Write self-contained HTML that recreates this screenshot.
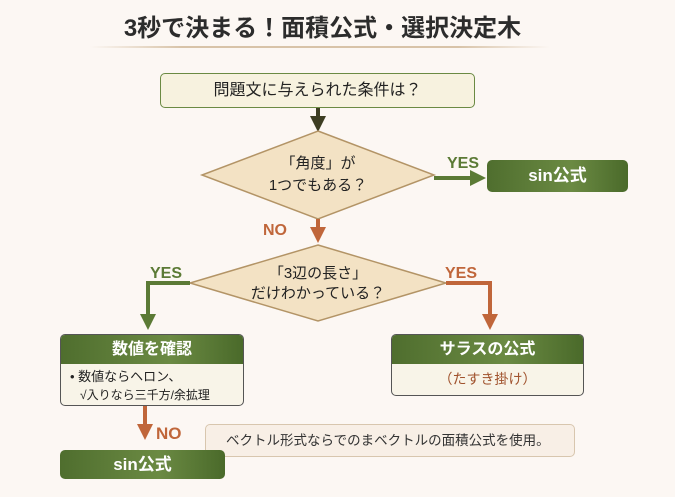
<!DOCTYPE html>
<html><head><meta charset="utf-8"><style>
body{margin:0;width:675px;height:497px;background:#fcf7f3;font-family:"Liberation Sans","Noto Sans CJK JP",sans-serif;position:relative;overflow:hidden}
.a{position:absolute}
.g{background:linear-gradient(90deg,#4f6e2e,#6b8a43 60%,#4a6a2a);color:#fff;border-radius:5px;text-align:center;font-weight:bold}
</style></head><body>
<div class="a" style="left:0;width:675px;top:8px;text-align:center;font-size:24px;font-weight:bold;color:#2c2c2c"><span style="margin-left:-30px">3秒で決まる！面積公式・選択決定木</span></div>
<div class="a" style="left:90px;top:46px;width:460px;height:2px;background:linear-gradient(90deg,transparent,#d8c3a8 20%,#d8c3a8 80%,transparent)"></div>

<div class="a" style="left:160px;top:73px;width:313px;height:33px;background:#f7f2df;border:1.5px solid #6b8a43;border-radius:5px;text-align:center;line-height:33px;font-size:16px;color:#222">問題文に与えられた条件は？</div>

<svg class="a" style="left:0;top:0" width="675" height="497">
<defs>
<marker id="dg" markerWidth="4" markerHeight="4" refX="2" refY="2" orient="auto"><path d="M0,0L4,2L0,4z" fill="#3d3d22"/></marker>
<marker id="gr" markerWidth="4" markerHeight="4" refX="2" refY="2" orient="auto"><path d="M0,0L4,2L0,4z" fill="#5b7a35"/></marker>
<marker id="or" markerWidth="4" markerHeight="4" refX="2" refY="2" orient="auto"><path d="M0,0L4,2L0,4z" fill="#c0663a"/></marker>
</defs>
<line x1="318" y1="108" x2="318" y2="124" stroke="#3d3d22" stroke-width="4" marker-end="url(#dg)"/>
<polygon points="318,131 434,175 318,219 202,175" fill="#f3e2c4" stroke="#b39466" stroke-width="1.5"/>
<line x1="434" y1="178" x2="478" y2="178" stroke="#5b7a35" stroke-width="4" marker-end="url(#gr)"/>
<line x1="318" y1="219" x2="318" y2="235" stroke="#c0663a" stroke-width="4" marker-end="url(#or)"/>
<polygon points="318,245 446,283 318,321 190,283" fill="#f3e2c4" stroke="#b39466" stroke-width="1.5"/>
<polyline points="190,283 148,283 148,322" fill="none" stroke="#5b7a35" stroke-width="4" marker-end="url(#gr)"/>
<polyline points="446,283 490,283 490,322" fill="none" stroke="#c0663a" stroke-width="4" marker-end="url(#or)"/>
<line x1="145" y1="406" x2="145" y2="432" stroke="#c0663a" stroke-width="4" marker-end="url(#or)"/>
<text x="318" y="168" text-anchor="middle" font-size="15" fill="#222">「角度」が</text>
<text x="318" y="190" text-anchor="middle" font-size="15" fill="#222">1つでもある？</text>
<text x="318" y="278" text-anchor="middle" font-size="15" fill="#222">「3辺の長さ」</text>
<text x="318" y="298" text-anchor="middle" font-size="15" fill="#222">だけわかっている？</text>
<text x="447" y="168" font-size="16" font-weight="bold" fill="#5b7a35">YES</text>
<text x="263" y="235" font-size="16" font-weight="bold" fill="#c0663a">NO</text>
<text x="150" y="278" font-size="16" font-weight="bold" fill="#5b7a35">YES</text>
<text x="445" y="278" font-size="16" font-weight="bold" fill="#c0663a">YES</text>
<text x="156" y="439" font-size="17" font-weight="bold" fill="#c0663a">NO</text>
</svg>

<div class="a g" style="left:487px;top:160px;width:141px;height:32px;line-height:32px;font-size:17px">sin公式</div>

<div class="a" style="left:60px;top:334px;width:182px;height:70px;border:1.5px solid #555;border-radius:5px;background:#f8f4e8;overflow:hidden">
<div class="g" style="border-radius:0;height:29px;line-height:29px;font-size:16px">数値を確認</div>
<div style="font-size:13px;color:#222;padding:4px 0 0 9px;line-height:18px">• 数値ならヘロン、<br><span style="padding-left:10px;font-size:12px">√入りなら三千方/余拡理</span></div>
</div>

<div class="a" style="left:391px;top:334px;width:191px;height:60px;border:1.5px solid #555;border-radius:5px;background:#f8f4e8;overflow:hidden">
<div class="g" style="border-radius:0;height:29px;line-height:29px;font-size:16px">サラスの公式</div>
<div style="text-align:center;font-size:14px;color:#a0522d;line-height:30px">（たすき掛け）</div>
</div>

<div class="a" style="left:205px;top:424px;width:368px;height:31px;border:1px solid #d8c6ae;border-radius:5px;background:#f8efe6;font-size:13.5px;line-height:31px;color:#333;text-indent:20px">ベクトル形式ならでのまベクトルの面積公式を使用。</div>

<div class="a g" style="left:60px;top:450px;width:165px;height:29px;line-height:29px;font-size:17px">sin公式</div>
</body></html>
